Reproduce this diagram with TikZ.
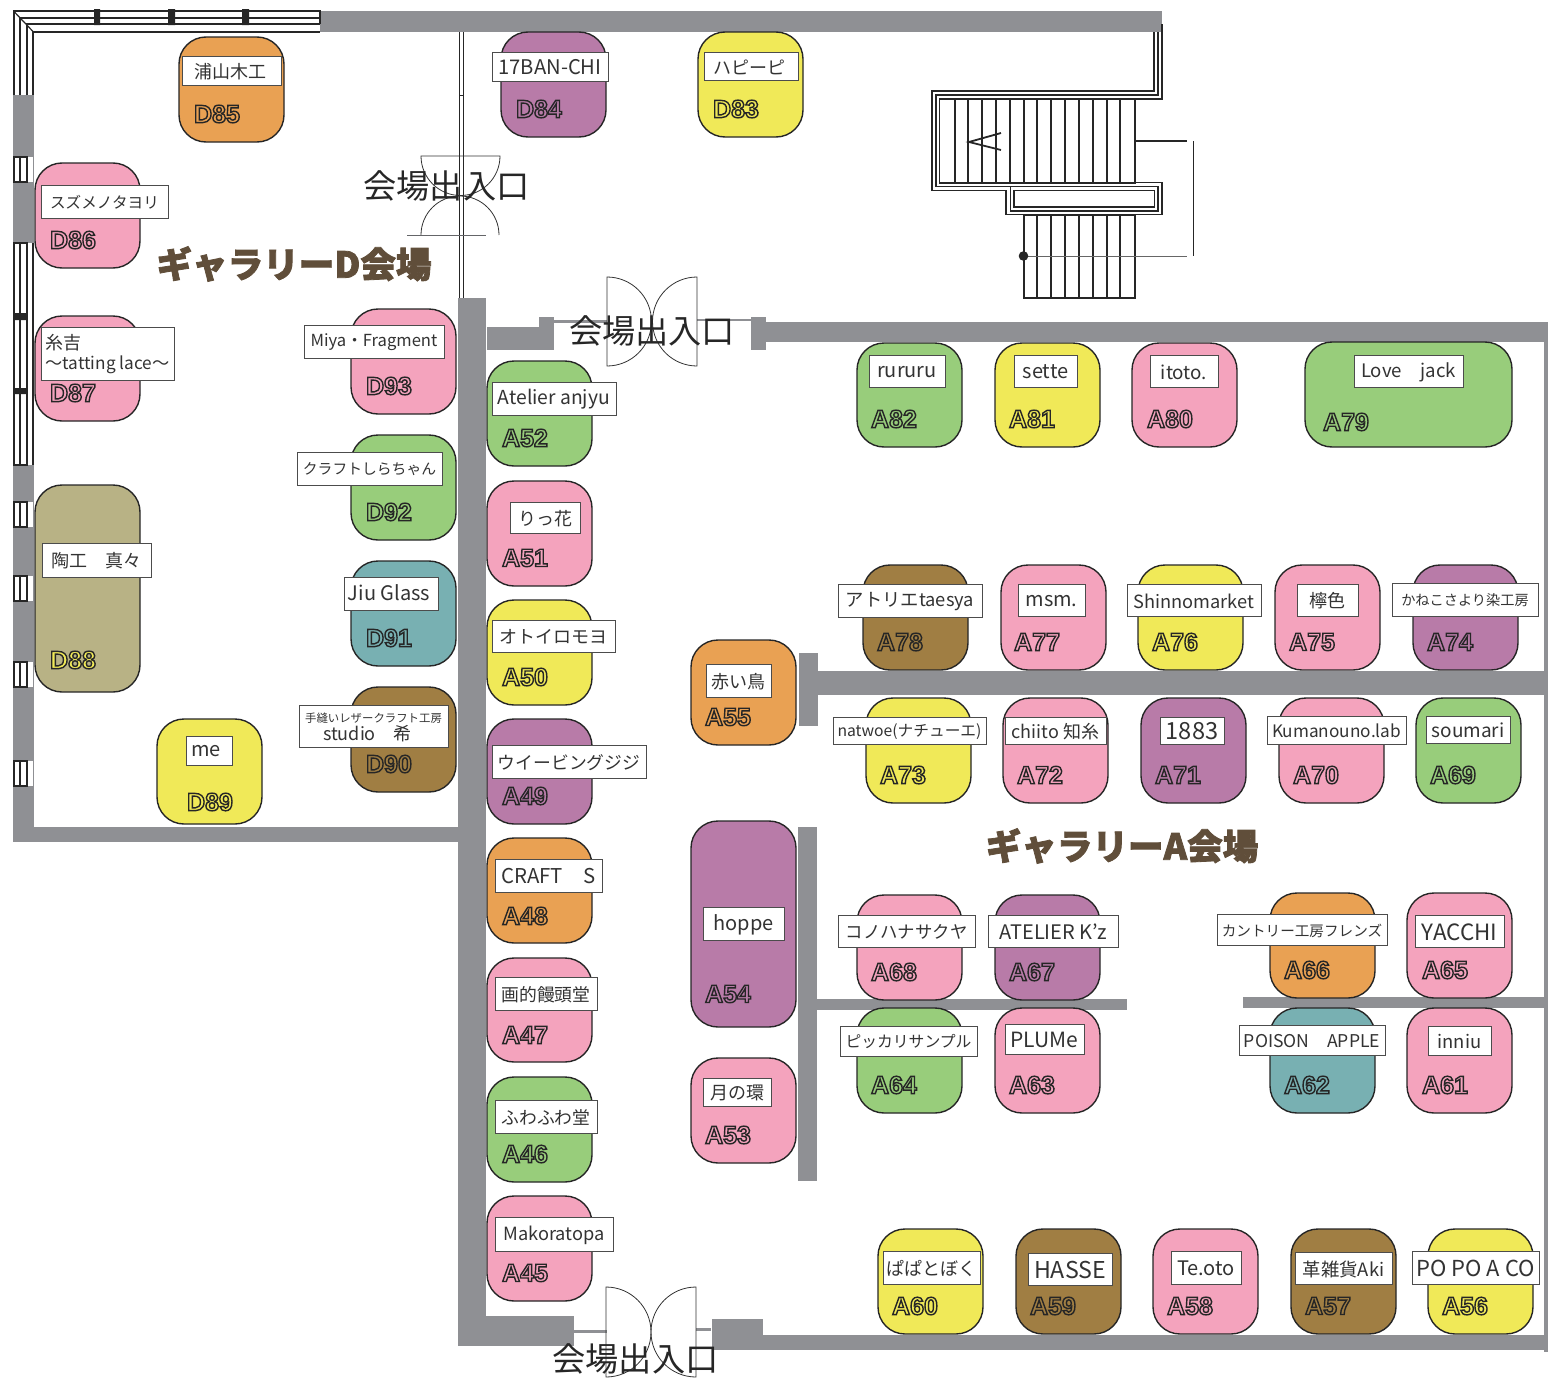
\documentclass[tikz,border=0pt]{standalone}
\usepackage{fontspec}
\setmainfont{Noto Sans CJK JP}
\newfontfamily\codefont{Liberation Sans}
\usetikzlibrary{positioning}

\definecolor{wallgray}{HTML}{8F9094}
\definecolor{titlebrown}{HTML}{604E3A}
\definecolor{boothorange}{HTML}{E9A153}
\definecolor{boothpurple}{HTML}{B87BA8}
\definecolor{boothyellow}{HTML}{F0E958}
\definecolor{boothpink}{HTML}{F4A3BD}
\definecolor{boothtan}{HTML}{B8B285}
\definecolor{boothbrown}{HTML}{A07E43}
\definecolor{boothteal}{HTML}{78B0B2}
\definecolor{boothgreen}{HTML}{98CD7B}

% outlined booth number
\newcommand\outlined[1]{\special{pdf:code q 2 Tr 0.7 w 0.15 0.15 0.15 RG}#1\special{pdf:code Q}}
% heavier hall name
\newcommand\heavy[1]{\special{pdf:code q 2 Tr 0.4 w 0.376 0.306 0.227 RG}#1\special{pdf:code Q}}

% [number colour]{id}{x0}{y0}{x1}{y1}{colour}{number x}{number y}
\newcommand\booth[9][]{%
  \def\codecol{#1}\ifx\codecol\empty\def\codecol{#7}\fi
  \node[boothbox,fill=#7,minimum width=(#5-#3)*0.5pt,minimum height=(#6-#4)*0.5pt]
    (#2) at ({(#3+#5)/2},{(#4+#6)/2}) {};
  \node[codetag,text=\codecol] (#2n) at (#8,#9) {\outlined{#2}};
}
% {id}{x0}{y0}{x1}{y1}{font size}{text}
\newcommand\plate[7]{%
  \node[platebox,minimum width=(#4-#2)*0.5pt,minimum height=(#5-#3)*0.5pt]
    (#1p) at ({(#2+#4)/2},{(#3+#5)/2}) {};
  \node[platetext,font=\fontsize{#6}{9}\selectfont] (#1t) at ([yshift=-0.5pt]#1p.center) {#7};
}
% window in the left wall
\newcommand\wallwin[2]{%
  \fill[white] (13,#1) rectangle (34,#2);
  \draw[winline] (13.5,#1) rectangle (26.5,#2);
  \draw[thin line] (20,#1) -- (20,#2);
  \draw[fine line,wallgray] (33.5,#1) -- (33.5,#2);
}

\begin{document}
\begin{tikzpicture}[x=0.5pt,y=-0.5pt,
boothbox/.style={draw=black!85,rectangle,rounded corners=13.5pt,line width=0.7pt,inner sep=0pt},
platebox/.style={draw=black!70,fill=white,rectangle,line width=0.5pt,inner sep=0pt},
platetext/.style={inner sep=0pt,align=left,text=black!80},
codetag/.style={inner sep=0pt,font=\codefont\bfseries\fontsize{12.5}{12.5}\selectfont},
wall/.style={fill=wallgray},
winline/.style={line width=1pt,black!85},
thin line/.style={line width=0.6pt,black!85},
fine line/.style={line width=0.35pt,black!85},
tread/.style={line width=0.9pt,black!85},
frame/.style={line width=0.8pt,black!85},
doorline/.style={line width=0.4pt,black!80},
doortext/.style={inner sep=0pt,text=black!85,font=\fontsize{16.6}{16.6}\selectfont},
gallerytext/.style={inner sep=0pt,text=titlebrown,font=\bfseries\fontsize{17.8}{17.8}\selectfont}]

\useasboundingbox (0,0) rectangle (1548,1381);

% walls
\fill[wall] (320,11) rectangle (1162,32);
\fill[wall] (13,95) rectangle (34,842);
\fill[wall] (13,827) rectangle (486,842);
\fill[wall] (458,298) rectangle (486,1346);
\fill[wall] (487,327) rectangle (554,350);
\fill[wall] (539,317) rectangle (554,350);
\fill[wall] (554,320) rectangle (607,323);
\fill[wall] (697,319) rectangle (751,321);
\fill[wall] (751,317) rectangle (766,350);
\fill[wall] (766,322) rectangle (1548,342);
\fill[wall] (1544,322) rectangle (1548,1352);
\fill[wall] (712,1319) rectangle (763,1350);
\fill[wall] (763,1335) rectangle (1548,1350);
\fill[wall] (458,1316) rectangle (574,1346);
\fill[wall] (574,1330) rectangle (607,1333);
\fill[wall] (696,1328) rectangle (711,1331);
\fill[wall] (799,653) rectangle (818,726);
\fill[wall] (818,671) rectangle (1548,695);
\fill[wall] (798,827) rectangle (817,1181);
\fill[wall] (817,999) rectangle (1127,1010);
\fill[wall] (1243,997) rectangle (1548,1008);

% corner windows
\fill[white] (13,11) rectangle (320,32);
\fill[white] (13,11) rectangle (34,95);
\fill[white] (13,243) rectangle (34,465);
\draw[winline] (13.5,95) -- (13.5,11) -- (320,11) -- (320,24);
\draw[thin line] (20,95) -- (20,18) -- (320,18);
\draw[winline] (26.5,95) -- (26.5,24) -- (320,24);
\draw[winline] (33,95) -- (33,31.5) -- (320,31.5);
\draw[thin line] (13.5,11) -- (33,31.5);
\fill[black!85] (94,9) rectangle (100,25) (168,9) rectangle (175,25) (242,9) rectangle (249,25);
\draw[winline] (13.5,243) rectangle (26.5,465);
\draw[thin line] (20,243) -- (20,465);
\draw[thin line] (33,243) -- (33,465);
\fill[black!85] (13,313) rectangle (26,320) (13,388) rectangle (26,394);
\wallwin{157}{182}
\wallwin{502}{527}
\wallwin{576}{601}
\wallwin{662}{687}
\wallwin{761}{786}

% partition and doors
\fill[white] (459,32) rectangle (463,298);
\draw[fine line] (459,32) -- (459,298) (463,32) -- (463,298) (459,95) -- (463,95);
\draw[doorline] (421,156) arc (180:360:19.75pt) -- cycle;
\draw[doorline] (421,235) arc (180:0:19.5pt);
\draw[doorline,wallgray!70!black] (407,235) -- (486,235);
\draw[doorline] (607,277) arc (90:-90:22.25pt) -- cycle;
\draw[doorline] (697,277) arc (90:270:22.25pt) -- cycle;
\draw[doorline] (606,1287) arc (90:-90:22.5pt) -- cycle;
\draw[doorline] (696,1287) arc (90:270:22.5pt) -- cycle;

% stairs
\draw[frame] (1154,32) -- (1154,91) -- (932,91) -- (932,190.5) -- (1006,190.5) -- (1006,214.5) -- (1162,214.5) -- (1162,182.5) -- (1135,182.5);
\draw[frame] (1162,24) -- (1162,99) -- (939.5,99) -- (939.5,183) -- (955,183);
\draw[frame] (1158,32) -- (1158,95) -- (936,95) -- (936,186.5) -- (1158,186.5) -- (1158,211) -- (1010.5,211) -- (1010.5,187);
\draw[frame] (1014,190.5) rectangle (1154.5,207);
\draw[tread] (955,99) rectangle (1135,183);
\draw[tread] (968,99) -- (968,183) (982,99) -- (982,183) (996,99) -- (996,183) (1010,99) -- (1010,183) (1024,99) -- (1024,183) (1037,99) -- (1037,183) (1051,99) -- (1051,183) (1065,99) -- (1065,183) (1079,99) -- (1079,183) (1093,99) -- (1093,183) (1107,99) -- (1107,183) (1120,99) -- (1120,183);
\draw[tread] (1024,215) rectangle (1135,298);
\draw[tread] (1037,215) -- (1037,298) (1051,215) -- (1051,298) (1065,215) -- (1065,298) (1079,215) -- (1079,298) (1093,215) -- (1093,298) (1107,215) -- (1107,298) (1120,215) -- (1120,298);
\draw[tread] (1001,133) -- (969,142) -- (1001,150);
\draw[tread] (1135,141) -- (1187,141);
\draw[fine line] (1193,141) -- (1193,256);
\draw[fine line,black!60] (1024,256) -- (1187,256);
\fill[black!85] (1023.5,256) circle (2.4pt);

% gallery D
\booth{D85}{179}{37}{284}{142}{boothorange}{217}{114}
\plate{D85}{182}{56}{281}{85}{9}{浦山木工\hspace*{1pt}}
\booth{D84}{501}{32}{606}{137}{boothpurple}{539}{109}
\plate{D84}{492}{52}{608}{81}{10.1}{17BAN-CHI}
\booth{D83}{698}{32}{803}{137}{boothyellow}{736}{109}
\plate{D83}{704}{52}{798}{80}{9}{ハピーピ\hspace*{2pt}}
\booth{D86}{35}{163}{140}{268}{boothpink}{73}{240}
\plate{D86}{41}{185}{168}{218}{7.8}{スズメノタヨリ}
\booth{D87}{35}{316}{140}{421}{boothpink}{73}{393}
\plate{D87}{41}{327}{174}{380}{9}{糸吉\\[1pt]\fontsize{8.6}{9}\selectfont〜tatting lace〜}
\booth[boothyellow]{D88}{35}{485}{140}{692}{boothtan}{73}{660}
\plate{D88}{42}{543}{151}{577}{9}{陶工　真々}
\booth{D89}{157}{719}{262}{824}{boothyellow}{210}{802}
\plate{D89}{186}{736}{232}{765}{10}{me\hspace*{3pt}}
\booth{D90}{351}{687}{456}{792}{boothbrown}{389}{764}
\plate{D90}{299}{705}{448}{747}{5.7}{手縫いレザークラフト工房\\\fontsize{9}{9}\selectfont\hspace*{9pt}studio　希}
\booth{D91}{351}{561}{456}{666}{boothteal}{389}{638}
\plate{D91}{344}{577}{438}{610}{10}{\raisebox{1.75pt}{Jiu Glass}\hspace*{2pt}}
\booth{D92}{351}{435}{456}{540}{boothgreen}{389}{512}
\plate{D92}{297}{452}{442}{485}{7.4}{クラフトしらちゃん}
\booth{D93}{351}{309}{456}{414}{boothpink}{389}{386}
\plate{D93}{304}{325}{444}{358}{8.3}{Miya・Fragment}

% gallery A, left aisle
\booth{A52}{487}{361}{592}{466}{boothgreen}{525}{438}
\plate{A52}{492}{382}{616}{415}{9.65}{Atelier anjyu}
\booth{A51}{487}{481}{592}{586}{boothpink}{525}{558}
\plate{A51}{510}{502}{580}{533}{9}{りっ花}
\booth{A50}{487}{600}{592}{705}{boothyellow}{525}{677}
\plate{A50}{492}{620}{615}{652}{9}{オトイロモヨ}
\booth{A49}{487}{719}{592}{824}{boothpurple}{525}{796}
\plate{A49}{492}{745}{646}{778}{8.9}{ウイービングジジ}
\booth{A48}{487}{838}{592}{943}{boothorange}{525}{916}
\plate{A48}{495}{859}{602}{892}{10.2}{CRAFT　S}
\booth{A47}{487}{958}{592}{1062}{boothpink}{525}{1035}
\plate{A47}{495}{977}{597}{1010}{8.9}{画的饅頭堂}
\booth{A46}{487}{1077}{592}{1182}{boothgreen}{525}{1154}
\plate{A46}{495}{1100}{597}{1133}{8.9}{ふわふわ堂}
\booth{A45}{487}{1196}{592}{1301}{boothpink}{525}{1273}
\plate{A45}{495}{1217}{613}{1251}{9.1}{Makoratopa}
\booth{A55}{691}{640}{796}{745}{boothorange}{728}{717}
\plate{A55}{706}{664}{771}{697}{9}{赤い鳥}
\booth{A54}{691}{821}{796}{1027}{boothpurple}{728}{994}
\plate{A54}{703}{907}{784}{940}{10}{hoppe}
\booth{A53}{691}{1058}{796}{1163}{boothpink}{728}{1135}
\plate{A53}{703}{1078}{771}{1106}{9}{月の環}

% gallery A, rows
\booth{A82}{857}{343}{962}{447}{boothgreen}{894}{419}
\plate{A82}{869}{355}{945}{387}{10}{rururu}
\booth{A81}{995}{343}{1100}{447}{boothyellow}{1032}{419}
\plate{A81}{1014}{355}{1077}{387}{10}{sette}
\booth{A80}{1132}{343}{1237}{447}{boothpink}{1170}{419}
\plate{A80}{1150}{355}{1218}{387}{9.4}{itoto.}
\booth{A79}{1305}{342}{1512}{447}{boothgreen}{1346}{422}
\plate{A79}{1354}{355}{1463}{387}{9.3}{Love　jack}
\booth{A78}{863}{565}{968}{670}{boothbrown}{900}{642}
\plate{A78}{838}{584}{982}{617}{9.15}{アトリエtaesya}
\booth{A77}{1001}{565}{1106}{670}{boothpink}{1037}{642}
\plate{A77}{1018}{584}{1085}{616}{10}{msm.}
\booth{A76}{1138}{565}{1243}{670}{boothyellow}{1175}{642}
\plate{A76}{1127}{584}{1261}{616}{9.1}{Shinnomarket}
\booth{A75}{1275}{565}{1380}{670}{boothpink}{1312}{642}
\plate{A75}{1297}{584}{1358}{616}{9}{檸色}
\booth{A74}{1413}{565}{1518}{670}{boothpurple}{1450}{642}
\plate{A74}{1392}{583}{1538}{616}{7.1}{かねこさより染工房}
\booth{A73}{866}{698}{971}{803}{boothyellow}{903}{775}
\plate{A73}{833}{717}{986}{744}{7.85}{natwoe(ナチューエ)}
\booth{A72}{1003}{698}{1108}{803}{boothpink}{1040}{775}
\plate{A72}{1005}{717}{1106}{744}{9}{chiito 知糸}
\booth{A71}{1141}{698}{1246}{803}{boothpurple}{1178}{775}
\plate{A71}{1160}{717}{1224}{744}{11.8}{1883}
\booth{A70}{1279}{698}{1384}{803}{boothpink}{1316}{775}
\plate{A70}{1267}{716}{1406}{744}{8.6}{Kumanouno.lab}
\booth{A69}{1416}{698}{1521}{803}{boothgreen}{1453}{775}
\plate{A69}{1426}{716}{1510}{743}{9.5}{soumari}
\booth{A68}{857}{895}{962}{1000}{boothpink}{894}{972}
\plate{A68}{838}{915}{975}{947}{8.7}{コノハナサクヤ}
\booth{A67}{995}{895}{1100}{1000}{boothpurple}{1032}{972}
\plate{A67}{988}{915}{1118}{947}{10}{ATELIER K'z}
\booth{A66}{1270}{893}{1375}{998}{boothorange}{1307}{970}
\plate{A66}{1217}{914}{1387}{945}{7.3}{カントリー工房フレンズ}
\booth{A65}{1407}{893}{1512}{998}{boothpink}{1445}{970}
\plate{A65}{1415}{915}{1504}{947}{11.2}{YACCHI}
\booth{A64}{857}{1008}{962}{1113}{boothgreen}{894}{1085}
\plate{A64}{840}{1026}{977}{1056}{7.9}{ピッカリサンプル}
\booth{A63}{995}{1008}{1100}{1113}{boothpink}{1032}{1085}
\plate{A63}{1005}{1024}{1084}{1054}{10.5}{PLUMe}
\booth{A62}{1270}{1008}{1375}{1113}{boothteal}{1307}{1085}
\plate{A62}{1239}{1025}{1385}{1055}{8.8}{POISON　APPLE}
\booth{A61}{1407}{1008}{1512}{1113}{boothpink}{1445}{1085}
\plate{A61}{1428}{1026}{1491}{1055}{9.2}{inniu}
\booth{A60}{878}{1229}{983}{1334}{boothyellow}{915}{1306}
\plate{A60}{883}{1251}{980}{1284}{9}{ぱぱとぼく}
\booth{A59}{1016}{1229}{1121}{1334}{boothbrown}{1053}{1306}
\plate{A59}{1028}{1253}{1112}{1285}{11.6}{HASSE}
\booth{A58}{1153}{1229}{1258}{1334}{boothpink}{1190}{1306}
\plate{A58}{1171}{1251}{1241}{1284}{10}{Te.oto}
\booth{A57}{1291}{1229}{1396}{1334}{boothbrown}{1328}{1306}
\plate{A57}{1295}{1252}{1392}{1284}{9.2}{革雑貨Aki}
\booth{A56}{1428}{1229}{1533}{1334}{boothyellow}{1465}{1306}
\plate{A56}{1412}{1251}{1539}{1284}{11}{PO PO A CO}

% hall names
\node[gallerytext] (galleryD) at (294,264) {\heavy{ギャラリーD会場}};
\node[gallerytext] (galleryA) at (1122,846) {\heavy{ギャラリーA会場}};
\node[doortext] (exit1) at (446.5,186) {会場出入口};
\node[doortext] (exit2) at (652,331) {会場出入口};
\node[doortext] (exit3) at (635.5,1359) {会場出入口};

\end{tikzpicture}
\end{document}
